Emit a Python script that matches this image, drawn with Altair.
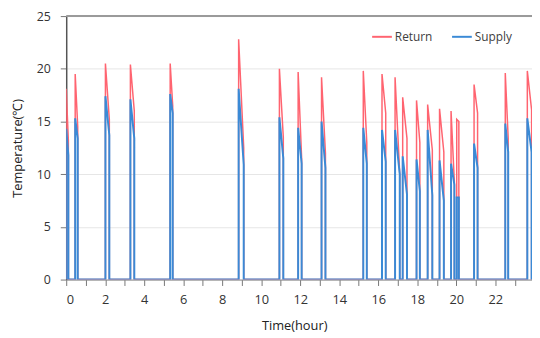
import altair as alt
import pandas as pd

# spike events (hours, °C)
start = [0.00, 0.46, 2.01, 3.29, 5.33, 8.84, 10.93, 11.89, 13.09, 15.23, 16.19,
         16.86, 17.25, 17.96, 18.53, 19.14, 19.73, 20.02, 20.91, 22.51, 23.64]
end = [0.11, 0.59, 2.21, 3.49, 5.46, 9.10, 11.13, 12.07, 13.29, 15.41, 16.38,
       17.10, 17.47, 18.13, 18.77, 19.36, 19.90, 20.13, 21.09, 22.66, 23.86]
return_peak = [18.1, 19.5, 20.5, 20.4, 20.5, 22.8, 20.0, 19.7, 19.2, 19.8, 19.5,
               19.2, 17.3, 17.0, 16.6, 16.2, 16.0, 15.2, 18.5, 19.6, 19.8]
return_end = [13.2, 14.5, 15.2, 16.0, 16.5, 12.5, 13.5, 11.5, 12.0, 13.0, 15.8,
              10.0, 13.4, 13.0, 12.3, 12.1, 9.2, 15.0, 15.8, 13.4, 16.1]
supply_peak = [14.3, 15.3, 17.4, 17.1, 17.6, 18.1, 15.4, 14.4, 15.0, 14.4, 14.2,
               14.2, 11.7, 11.4, 14.2, 11.3, 11.0, 7.8, 12.9, 14.8, 15.3]
supply_end = [11.8, 13.4, 13.7, 13.4, 15.8, 10.9, 11.5, 11.0, 10.6, 11.0, 11.2,
              10.0, 8.1, 8.4, 8.0, 7.5, 9.0, 7.8, 10.6, 12.1, 12.1]

x_max = 23.88
series_names = ["Return", "Supply"]
colors = ["#ff6470", "#3a8ad6"]


def build(name, peaks, ends):
    rows = [(0.0, 0.0)]
    for s, e, p, q in zip(start, end, peaks, ends):
        rows += [(s, 0.0), (s, p), (e, q), (e, 0.0)]
    rows.append((x_max, 0.0))
    return pd.DataFrame({"t": [r[0] for r in rows], "v": [r[1] for r in rows],
                         "i": list(range(len(rows))), "series": name})


df = pd.concat([build("Return", return_peak, return_end),
                build("Supply", supply_peak, supply_end)], ignore_index=True)

xscale = alt.Scale(domain=[0, x_max], nice=False, zero=False)
yscale = alt.Scale(domain=[0, 25], nice=False)
cscale = alt.Scale(domain=series_names, range=colors)

x_enc = alt.X("t:Q", scale=xscale, title="Time(hour)",
              axis=alt.Axis(values=list(range(0, 24)),
                            labelExpr="datum.value % 2 == 0 ? datum.label : ''",
                            grid=False, tickSize=6, labelPadding=8, titlePadding=14,
                            titleX=231,
                            domainColor="#888888", tickColor="#777777"))
y_enc = alt.Y("v:Q", scale=yscale, title="Temperature(℃)",
              axis=alt.Axis(values=[0, 5, 10, 15, 20, 25], grid=True, gridColor="#e6e6e6",
                            tickSize=6, labelPadding=10, titlePadding=12, labelFontSize=12.5,
                            domainColor="#555555", domainWidth=1.5, tickColor="#777777"))

legend = alt.Legend(title=None, orient="none", legendX=309, legendY=10, direction="horizontal",
                    symbolType="stroke", symbolSize=400, symbolStrokeWidth=2,
                    labelFontSize=12, labelColor="#404040", labelFont="Open Sans",
                    columnPadding=15, labelOffset=2)

base = alt.Chart(df)
red = base.transform_filter(alt.datum.series == "Return").mark_line(
    strokeWidth=1.5, clip=True, interpolate="linear").encode(
    x=x_enc, y=y_enc, order=alt.Order("i:Q"),
    color=alt.Color("series:N", scale=cscale, legend=legend))
blue = base.transform_filter(alt.datum.series == "Supply").mark_line(
    strokeWidth=2, clip=True, interpolate="linear").encode(
    x=x_enc, y=y_enc, order=alt.Order("i:Q"),
    color=alt.Color("series:N", scale=cscale, legend=legend))

top = alt.Chart(pd.DataFrame({"v": [25]})).mark_rule(color="#9a9a9a", strokeWidth=2).encode(
    y=alt.Y("v:Q", scale=yscale))

chart = alt.layer(top, red, blue).properties(
    width=472, height=267,
    autosize=alt.AutoSizeParams(type="none"),
    padding={"left": 59, "top": 6, "right": 0, "bottom": 56},
).configure_view(stroke=None).configure_axis(
    labelFont="Open Sans", labelFontSize=13, labelColor="#333333",
    titleFont="Open Sans", titleFontSize=13, titleColor="#222222", titleFontWeight="normal",
)

chart.save("out.html", embed_options={"renderer": "svg", "actions": False})
